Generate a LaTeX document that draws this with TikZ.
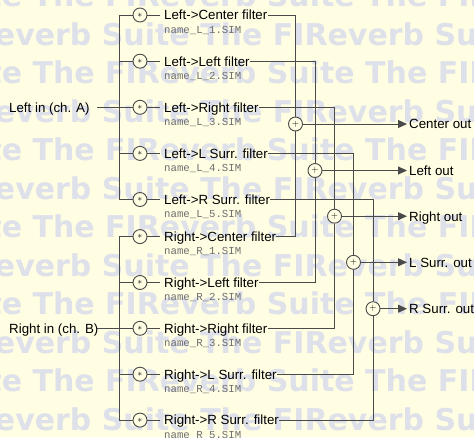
\documentclass[tikz,border=0pt]{standalone}
\usepackage{fontspec}
\setmainfont{Liberation Sans}
\setmonofont{Liberation Mono}
\newfontfamily\wmfont{DejaVu Sans}
\usetikzlibrary{arrows.meta}
\definecolor{bgc}{HTML}{FFFDE2}
\definecolor{wmc}{HTML}{DEE1EA}
\definecolor{linec}{HTML}{4A4A4A}
\definecolor{namec}{HTML}{6E6E6E}
\begin{document}
\begin{tikzpicture}[x=1pt,y=-1pt,
  wire/.style={draw=linec,line width=0.9pt},
  mult/.style={circle,draw=linec,line width=0.9pt,fill=bgc,minimum size=14pt,inner sep=0pt,font=\fontsize{9}{9}\selectfont},
  summ/.style={mult},
  title/.style={anchor=west,inner sep=0pt,text height=9.6pt,text depth=0pt,font=\fontsize{13.3}{14}\selectfont,text=black},
  fname/.style={anchor=west,inner sep=0pt,font=\ttfamily\fontsize{10.7}{11}\selectfont,text=namec},
  outlbl/.style={anchor=west,inner xsep=2pt,inner ysep=0pt,text height=9.6pt,text depth=0pt,font=\fontsize{13.3}{14}\selectfont,text=black},
  wm/.style={anchor=base west,inner sep=0pt,font=\wmfont\bfseries\fontsize{30}{30}\selectfont,text=wmc},
  arr/.style={wire,-{Triangle[length=9pt,width=8pt]}}]
\useasboundingbox (0,0) rectangle (474,437);
\fill[bgc] (0,0) rectangle (474,437);
\begin{scope}
  \clip (0,0) rectangle (474,437);
  \foreach \b in {6.5,83.5,160.5,237.5,314.5,391.5}
    \node[wm] at (-66,\b) {Suite The FIReverb Suite The FIReverb};
  \foreach \b in {45,122,199,276,353,430}
    \node[wm] at (-60,\b) {FIReverb Suite The FIReverb Suite};
\end{scope}
% summing junctions and outputs
\foreach \j/\x/\y/\o in {1/295.5/124/Center out, 2/315/170.5/Left out, 3/334.5/216.2/Right out, 4/353.5/262.3/L Surr. out, 5/373/308.7/R Surr. out}{
  \node[summ] (s\j) at (\x,\y) {$+$};
  \node[outlbl] (o\j) at (407,\y) {\o};
  \draw[arr] (s\j) -- (o\j.west);
}
% left input filters
\foreach \i/\y/\t in {1/15/Center, 2/61.2/Left, 3/107.3/Right, 4/153.4/L Surr., 5/199.5/R Surr.}{
  \coordinate (bl\i) at (119,\y);
  \node[mult] (ml\i) at (140,\y) {$\ast$};
  \node[title] (tl\i) at (164,\y) {Left->\t{} filter};
  \node[fname] (nl\i) at (164,\y+15) {name\_L\_\i.SIM};
}
% right input filters
\foreach \i/\y/\t in {1/236.6/Center, 2/282.5/Left, 3/328.3/Right, 4/374.2/L Surr., 5/420.1/R Surr.}{
  \coordinate (br\i) at (119,\y);
  \node[mult] (mr\i) at (140,\y) {$\ast$};
  \node[title] (tr\i) at (164,\y) {Right->\t{} filter};
  \node[fname] (nr\i) at (164,\y+15) {name\_R\_\i.SIM};
}
% inputs
\node[title] (inA) at (9,107.3) {Left in (ch. A)};
\coordinate (ia) at (97,107.3);
\node[title] (inB) at (9,328.3) {Right in (ch. B)};
\coordinate (ib) at (97,328.3);
\draw[wire] (ia) -- (bl3);
\draw[wire] (ib) -- (br3);
\draw[wire] (bl1) -- (bl5);
\draw[wire] (br1) -- (br5);
\foreach \i in {1,...,5}{
  \draw[wire] (bl\i) -- (ml\i);
  \draw[wire,shorten >=4.5pt] (ml\i) -- (tl\i);
  \draw[wire] (tl\i.east) -| (s\i);
  \draw[wire] (br\i) -- (mr\i);
  \draw[wire,shorten >=4.5pt] (mr\i) -- (tr\i);
  \draw[wire] (tr\i.east) -| (s\i);
}
\end{tikzpicture}
\end{document}
